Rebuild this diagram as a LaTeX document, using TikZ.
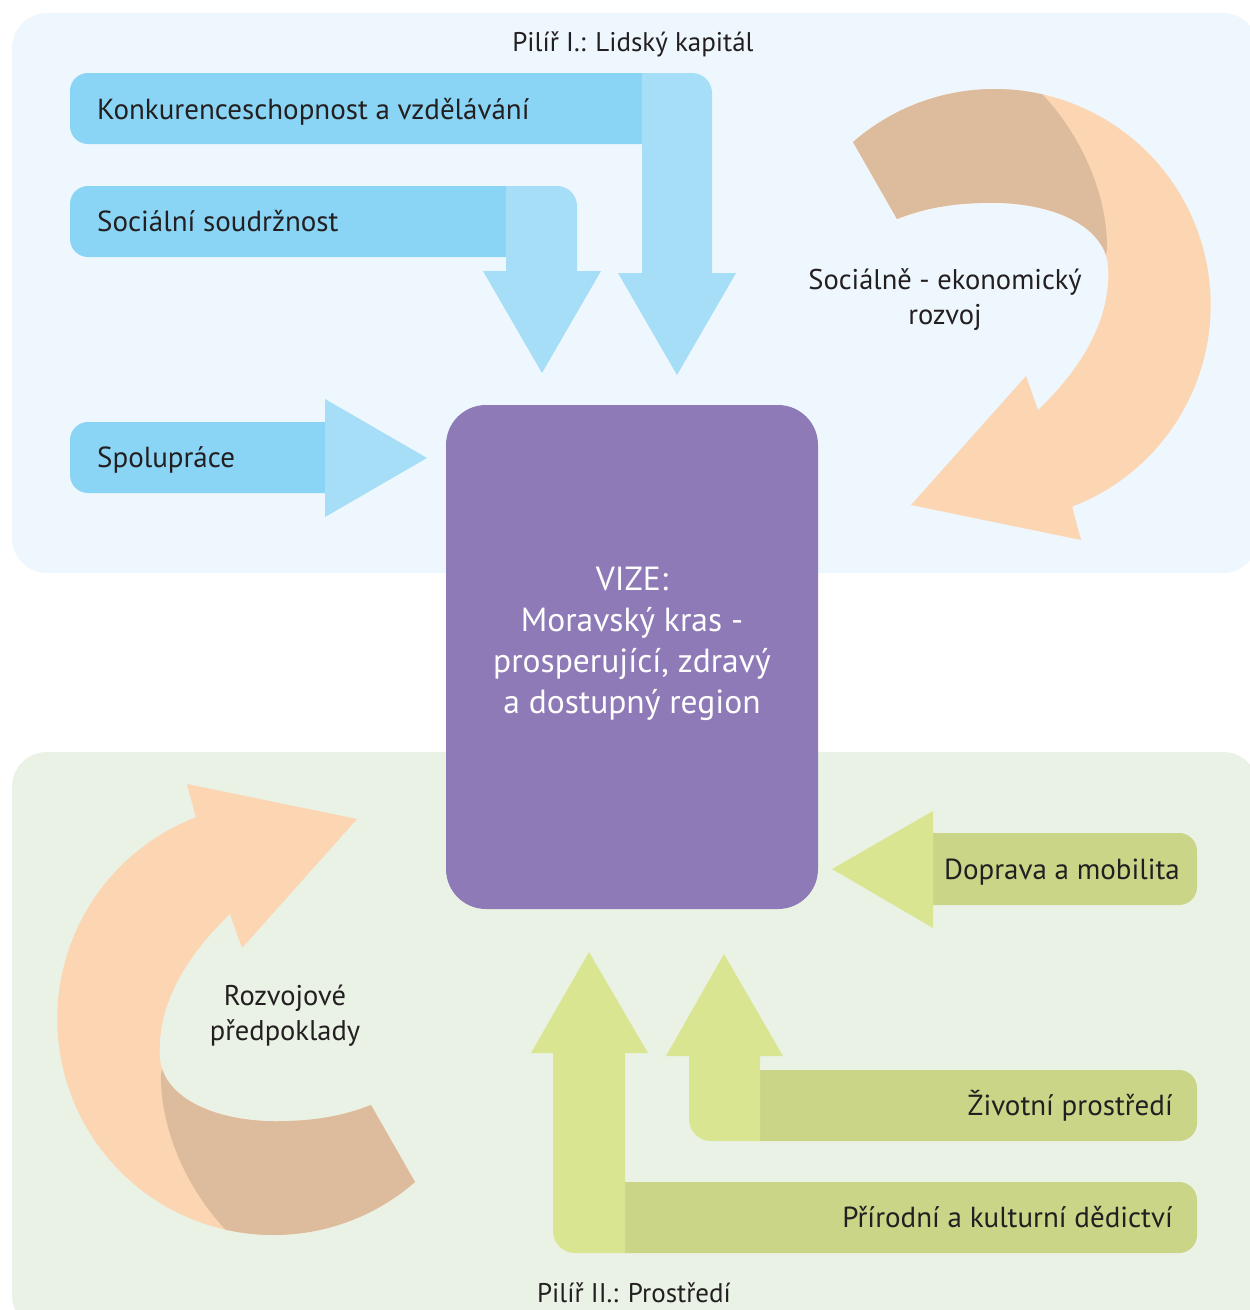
\documentclass[tikz,border=0pt]{standalone}
\usepackage{fontspec}
\setmainfont{PT Sans}
\definecolor{panelblue}{HTML}{EEF7FD}
\definecolor{panelgreen}{HTML}{E9F2E5}
\definecolor{bluedark}{HTML}{8AD5F5}
\definecolor{bluelight}{HTML}{A6DEF7}
\definecolor{greendark}{HTML}{CBD587}
\definecolor{greenlight}{HTML}{DAE592}
\definecolor{vizefill}{HTML}{8E7AB7}
\definecolor{peach}{HTML}{FCD5B2}
\definecolor{tan}{HTML}{DDBB9D}
\definecolor{inkdark}{HTML}{231F20}
% outline of the curved arrow (upper right one)
\newcommand{\cyclepath}{(853,142) arc[start angle=131,end angle=-69,radius=216pt]
 -- (1081,540) -- (911,505) -- (1026,376) -- (1038,410)
 .. controls (1080,370) and (1112,320) .. (1108,265)
 .. controls (1104,225) and (1050,200) .. (980,203)
 .. controls (945,204) and (920,210) .. (897,219) -- cycle}
\newcommand{\cyclearrow}{%
 \fill[peach] \cyclepath;
 \begin{scope}
  \clip \cyclepath;
  \fill[tan] (830,60) -- (1030,60) -- (1043,95) .. controls (1085,140) and (1108,200) .. (1107,250) -- (1104,262) -- (840,262) -- cycle;
 \end{scope}}
\begin{document}
\begin{tikzpicture}[x=1pt,y=-1pt,
 bartext/.style={text=inkdark,inner sep=0pt,font=\fontsize{29}{34}\selectfont},
 pillartext/.style={text=inkdark,inner sep=0pt,font=\fontsize{27}{32}\selectfont},
 cycletext/.style={text=inkdark,align=center,inner sep=0pt,font=\fontsize{28.5}{35}\selectfont},
 vizebox/.style={fill=vizefill,rounded corners=40pt,minimum width=372pt,minimum height=504pt,inner sep=0pt}]
\useasboundingbox (0,0) rectangle (1250,1310);
% pillar panels
\fill[panelblue,rounded corners=35pt] (12,13) rectangle (1258,573);
\fill[panelgreen,rounded corners=35pt] (12,752) rectangle (1258,1330);
\node[pillartext,anchor=base] (pilir1) at (633,51) {Pilíř I.: Lidský kapitál};
\node[pillartext,anchor=base] (pilir2) at (634,1302) {Pilíř II.: Prostředí};

% vision
\node[vizebox] (vize) at (632,657) {};
\node[text=white,align=center,inner sep=0pt,font=\fontsize{33.5}{41}\selectfont] (vizetext) at (632,644)
 {VIZE:\\Moravský kras -\\prosperující, zdravý\\a dostupný region};

% blue arrows
\fill[bluedark,rounded corners=18pt] (70,73) rectangle (670,144);
\fill[bluelight] (642,273) -- (642,73) [rounded corners=20pt] -- (712,73) [sharp corners] -- (712,273) -- cycle;
\fill[bluelight] (618,273) -- (736,273) -- (677,375) -- cycle;
\node[bartext,anchor=base west] (konk) at (97,119) {Konkurenceschopnost a vzdělávání};

\fill[bluedark,rounded corners=18pt] (70,186) rectangle (530,257);
\fill[bluelight] (506,271) -- (506,186) [rounded corners=20pt] -- (577,186) [sharp corners] -- (577,271) -- cycle;
\fill[bluelight] (483,271) -- (601,271) -- (542,373) -- cycle;
\node[bartext,anchor=base west] (soudr) at (97,231) {Sociální soudržnost};

\fill[bluedark,rounded corners=18pt] (70,422) rectangle (345,493);
\fill[bluelight] (325,399) -- (325,517) -- (427,458) -- cycle;
\node[bartext,anchor=base west] (spol) at (97,467) {Spolupráce};

% green arrows
\fill[greendark,rounded corners=18pt] (915,833) rectangle (1197,905);
\fill[greenlight] (933,811) -- (933,928) -- (832,869) -- cycle;
\node[bartext,anchor=base east] (doprava) at (1180,879) {Doprava a mobilita};

\fill[greendark,rounded corners=18pt] (740,1070) rectangle (1197,1141);
\fill[greenlight] (760,1056) -- (760,1141) [rounded corners=22pt] -- (689,1141) [sharp corners] -- (689,1056) -- cycle;
\fill[greenlight] (666,1056) -- (783,1056) -- (724,954) -- cycle;
\node[bartext,anchor=base east] (zivot) at (1173,1115) {Životní prostředí};

\fill[greendark,rounded corners=18pt] (605,1182) rectangle (1197,1253);
\fill[greenlight] (625,1053) -- (625,1253) [rounded corners=22pt] -- (553,1253) [sharp corners] -- (553,1053) -- cycle;
\fill[greenlight] (531,1053) -- (648,1053) -- (589,952) -- cycle;
\node[bartext,anchor=base east] (dedictvi) at (1173,1227) {Přírodní a kulturní dědictví};

% curved arrows
\cyclearrow
\begin{scope}[rotate around={180:(634,662)}]
 \cyclearrow
\end{scope}
\node[cycletext] (rozvoj) at (945,300) {Sociálně - ekonomický\\rozvoj};
\node[cycletext] (predpoklady) at (285,1016) {Rozvojové\\předpoklady};
\end{tikzpicture}
\end{document}
